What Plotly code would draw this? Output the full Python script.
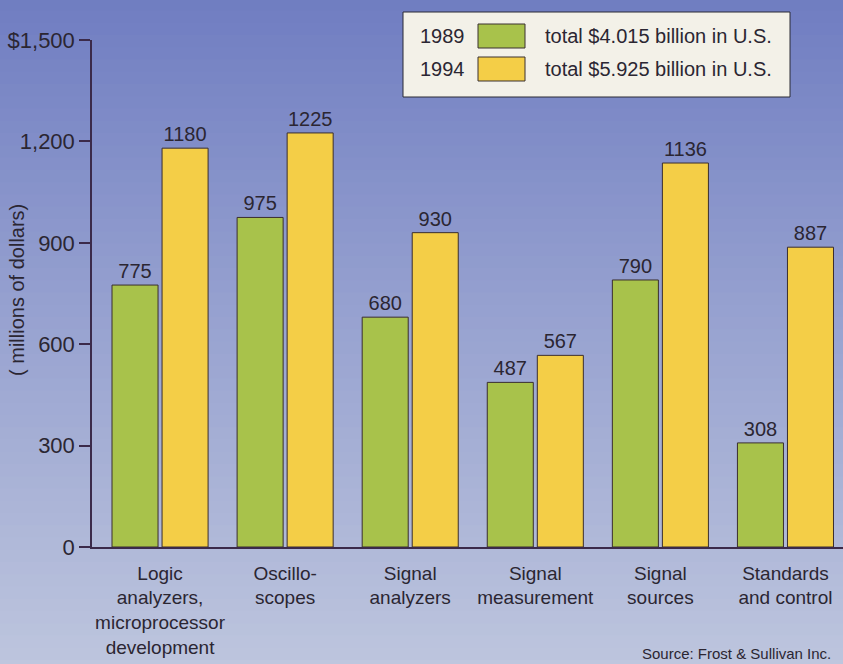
import plotly.graph_objects as go

categories = ['Logic<br>analyzers,<br>microprocessor<br>development', 'Oscillo-<br>scopes',
              'Signal<br>analyzers', 'Signal<br>measurement', 'Signal<br>sources',
              'Standards<br>and control']
sales_1989 = [775, 975, 680, 487, 790, 308]
sales_1994 = [1180, 1225, 930, 567, 1136, 887]
years = ['1989', '1994']
totals = ['total $4.015 billion in U.S.', 'total $5.925 billion in U.S.']
y_ticks = [0, 300, 600, 900, 1200, 1500]
y_ticktext = ['0', '300', '600', '900', '1,200', '$1,500']

GREEN = '#a8c24b'
YELLOW = '#f4ce47'
INK = '#2b2632'
FONT = 'Liberation Sans, Arial, sans-serif'

fig = go.Figure()
for vals, col in [(sales_1989, GREEN), (sales_1994, YELLOW)]:
    fig.add_trace(go.Bar(x=categories, y=vals, marker_color=col,
                         marker_line=dict(color='#3a2e2e', width=1),
                         text=vals, textposition='outside', cliponaxis=False,
                         textfont=dict(size=20, color=INK), showlegend=False))

# gradient background, top blue to pale grey-blue at bottom
stops = [(0.0, (105, 119, 191)), (0.5, (150, 161, 208)), (1.0, (190, 198, 222))]
n = 60
shapes = []
for i in range(n):
    t = i / (n - 1)
    for (a, ca), (b, cb) in zip(stops[:-1], stops[1:]):
        if a <= t <= b:
            f = (t - a) / (b - a)
            c = tuple(int(ca[k] + (cb[k] - ca[k]) * f) for k in range(3))
            break
    shapes.append(dict(type='rect', xref='paper', yref='paper', layer='below',
                       x0=-0.2, x1=1.05, y0=1.2 - (i + 1) * 1.45 / n, y1=1.2 - i * 1.45 / n + 0.003,
                       fillcolor='rgb(%d,%d,%d)' % c, line_width=0))

# legend box drawn by hand
px_x = lambda v: (v - 92) / 751
px_y = lambda v: (547 - v) / 507
shapes.append(dict(type='rect', xref='paper', yref='paper', x0=px_x(403), x1=px_x(790),
                   y0=px_y(97), y1=px_y(12), fillcolor='#f3f1e8',
                   line=dict(color='#2a2a35', width=1)))
annotations = []
for i, (yr, tot, col) in enumerate(zip(years, totals, [GREEN, YELLOW])):
    cy = 36 + 33 * i
    shapes.append(dict(type='rect', xref='paper', yref='paper', x0=px_x(478), x1=px_x(525),
                       y0=px_y(cy + 12), y1=px_y(cy - 12), fillcolor=col,
                       line=dict(color='#3a3030', width=1)))
    annotations.append(dict(text=yr, xref='paper', yref='paper', x=px_x(418), y=px_y(cy),
                            xanchor='left', yanchor='middle', showarrow=False,
                            font=dict(size=20, color=INK, family=FONT)))
    annotations.append(dict(text=tot, xref='paper', yref='paper', x=px_x(543), y=px_y(cy),
                            xanchor='left', yanchor='middle', showarrow=False,
                            font=dict(size=20, color=INK, family=FONT)))

annotations.append(dict(text='Source: Frost & Sullivan Inc.', xref='paper', yref='paper',
                        x=px_x(833), y=px_y(653), xanchor='right', yanchor='middle',
                        showarrow=False, font=dict(size=15, color=INK, family=FONT)))
annotations.append(dict(text='( millions of dollars)', xref='paper', yref='paper',
                        x=px_x(17), y=px_y(290), xanchor='center', yanchor='middle',
                        textangle=-90, showarrow=False,
                        font=dict(size=20, color=INK, family=FONT)))

fig.update_layout(
    width=843, height=664,
    margin=dict(l=92, r=0, t=40, b=117),
    paper_bgcolor='#b0bad8', plot_bgcolor='rgba(0,0,0,0)',
    barmode='group', bargap=0.2, bargroupgap=0.08,
    font=dict(family=FONT, color=INK),
    shapes=shapes, annotations=annotations,
)
fig.update_xaxes(range=[-0.544, 5.46], showline=True, linecolor='#3b2a4a', linewidth=1.5,
                 ticks='', tickfont=dict(size=19, color=INK), ticklabelstandoff=8,
                 showgrid=False, automargin=False)
fig.update_yaxes(range=[0, 1500], tickvals=y_ticks, ticktext=y_ticktext, showgrid=False,
                 zeroline=False, showline=True, linecolor='#3b2a4a', linewidth=1.5,
                 ticks='outside', ticklen=11, tickcolor='#3b2a4a', tickwidth=1.5,
                 tickfont=dict(size=22, color=INK), automargin=False)

fig.write_html("out.html", config={'displayModeBar': False},
               post_script="document.body.style.margin='0';document.body.style.overflow='hidden';")
